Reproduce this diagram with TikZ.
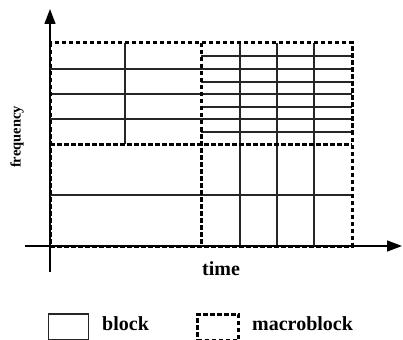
\documentclass[tikz,border=0pt]{standalone}
\usepackage{fontspec}
\setmainfont{Liberation Serif}
\usetikzlibrary{arrows.meta}
\begin{document}
\begin{tikzpicture}[x=1pt,y=-1pt,
  gridline/.style={line width=1.4pt,black!85},
  macro/.style={line width=3pt,dash pattern=on 4.5pt off 2.5pt,black},
  axis/.style={line width=1.3pt,-{Triangle[length=15pt,width=11pt]}},
  lbl/.style={font=\bfseries\fontsize{20}{22}\selectfont,inner sep=0pt},
  legblock/.style={draw,line width=1.4pt,black!85,minimum width=40pt,minimum height=26pt,inner sep=0pt},
  legmacro/.style={macro,minimum width=41pt,minimum height=26pt,inner sep=0pt}]
\useasboundingbox (0,0) rectangle (403,339);
% axes
\coordinate (yb) at (50,272);
\coordinate (yt) at (50,9);
\coordinate (xl) at (25,246);
\coordinate (xr) at (402,246);
\draw[axis] (yb) -- (yt);
\draw[axis] (xl) -- (xr);
% top-left blocks
\foreach \y in {69,94,119} \draw[gridline] (50,\y) -- (201,\y);
\draw[gridline] (125,43) -- (125,144);
% top-right blocks
\foreach \y in {56,69,82,94,107,119,132} \draw[gridline] (201,\y) -- (352,\y);
\foreach \x in {240,277,314} \draw[gridline] (\x,43) -- (\x,246);
% bottom blocks
\draw[gridline] (50,195) -- (352,195);
% macroblocks
\draw[macro] (50,43) rectangle (352,246);
\draw[macro] (201,43) -- (201,246);
\draw[macro] (50,144) -- (352,144);
% labels
\node[lbl,rotate=90,font=\bfseries\fontsize{14.5}{16}\selectfont] (freq) at (17,137) {frequency};
\node[lbl,anchor=base] (time) at (221,275) {time};
% legend
\node[legblock] (lb) at (68.5,327) {};
\node[lbl,anchor=base west] (lbt) at (102,330.5) {block};
\node[legmacro,draw] (lm) at (218,327) {};
\node[lbl,anchor=base west] (lmt) at (252,330.5) {macroblock};
\end{tikzpicture}
\end{document}
